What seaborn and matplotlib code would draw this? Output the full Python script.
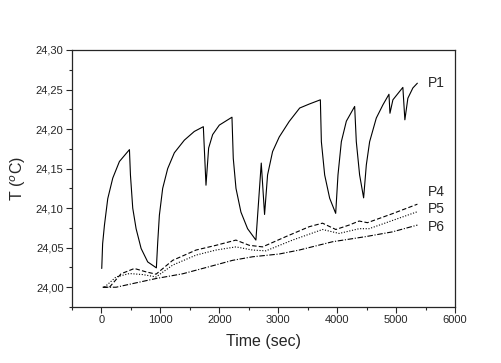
import matplotlib
matplotlib.use("Agg")
import matplotlib.pyplot as plt
import matplotlib.ticker as mticker
import pandas as pd
import seaborn as sns

# values
p1_t = [5, 20, 51, 107, 192, 305, 475,
        492, 531, 588, 673, 785, 932,
        955, 983, 1039, 1124, 1237, 1407, 1576, 1729,
        1774, 1819, 1887, 2000, 2215,
        2237, 2283, 2367, 2480, 2621,
        2712, 2768, 2819, 2904, 3017, 3186, 3364, 3525, 3715,
        3732, 3788, 3873, 3975,
        4014, 4071, 4156, 4297,
        4325, 4381, 4449,
        4495, 4551, 4664, 4777, 4879,
        4896, 4946, 5115,
        5149, 5200, 5285, 5361]
p1_T = [24.0237, 24.055, 24.0786, 24.112, 24.138, 24.159, 24.174,
        24.142, 24.100, 24.074, 24.049, 24.032, 24.0245,
        24.057, 24.091, 24.125, 24.150, 24.170, 24.186, 24.197, 24.203,
        24.129, 24.176, 24.193, 24.205, 24.215,
        24.163, 24.125, 24.095, 24.074, 24.0596,
        24.157, 24.092, 24.142, 24.1715, 24.190, 24.2096, 24.2266, 24.2316, 24.237,
        24.184, 24.142, 24.1125, 24.0934,
        24.142, 24.184, 24.210, 24.2286,
        24.184, 24.142, 24.113,
        24.1547, 24.184, 24.2139, 24.2307, 24.244,
        24.220, 24.237, 24.2527,
        24.2117, 24.239, 24.252, 24.258]

p4_t = [23, 136, 333, 559, 757, 927, 1209, 1605, 1944, 2282, 2508, 2734, 3130,
        3525, 3751, 3977, 4203, 4373, 4514, 4938, 5362]
p4_T = [24.00, 24.00, 24.017, 24.0237, 24.0194, 24.0165, 24.034, 24.047, 24.053,
        24.0596, 24.053, 24.051, 24.064, 24.0765, 24.081, 24.073, 24.0786, 24.0837,
        24.0816, 24.093, 24.105]

p5_t = [50, 249, 475, 700, 927, 1209, 1605, 1944, 2282, 2565, 2791, 3243, 3751,
        4034, 4373, 4542, 5362]
p5_T = [24.00, 24.013, 24.0173, 24.016, 24.013, 24.028, 24.0406, 24.047, 24.051,
        24.047, 24.046, 24.0596, 24.073, 24.068, 24.074, 24.074, 24.0955]

p6_t = [23, 249, 531, 927, 1379, 1831, 2226, 2565, 3017, 3356, 3921, 4486, 4938, 5362]
p6_T = [24.00, 24.00, 24.0046, 24.011, 24.017, 24.026, 24.034, 24.0385, 24.042,
        24.047, 24.0575, 24.064, 24.070, 24.0786]

labels = ["P1", "P4", "P5", "P6"]
label_y = [24.258, 24.121, 24.0985, 24.0765]

sns.set_style("ticks")
plt.rcParams["font.family"] = ["Liberation Sans", "DejaVu Sans"]

fig = plt.figure(figsize=(5.02, 3.63), dpi=100)
ax = fig.add_axes([0.1434, 0.1543, 0.763, 0.708])

series = [(p1_t, p1_T, "-"), (p4_t, p4_T, (0, (4, 2))),
          (p5_t, p5_T, (0, (1, 1.5))), (p6_t, p6_T, (0, (5, 1.5, 1, 1.5)))]
for t, T, ls in series:
    df = pd.DataFrame({"t": t, "T": T})
    sns.lineplot(data=df, x="t", y="T", ax=ax, color="black", lw=0.8,
                 linestyle=ls, estimator=None, sort=False)

for lab, y in zip(labels, label_y):
    ax.text(5540, y, lab, fontsize=10, va="center", ha="left")

ax.set_xlim(-500, 6000)
ax.set_ylim(23.975, 24.30)
ax.xaxis.set_major_locator(mticker.MultipleLocator(1000))
ax.xaxis.set_minor_locator(mticker.MultipleLocator(500))
ax.yaxis.set_major_locator(mticker.MultipleLocator(0.05))
ax.yaxis.set_minor_locator(mticker.MultipleLocator(0.025))
ax.yaxis.set_major_formatter(mticker.FuncFormatter(lambda v, p: f"{v:.2f}".replace(".", ",")))
ax.tick_params(which="major", direction="out", length=4, width=0.8, labelsize=8, pad=2)
ax.tick_params(which="minor", direction="out", length=2, width=0.8)
for s in ax.spines.values():
    s.set_linewidth(0.9)

ax.set_xlabel("Time (sec)", fontsize=11.5, labelpad=6)
ax.set_ylabel("T ($^{o}$C)", fontsize=11.5, labelpad=6)

fig.savefig("out.png", dpi=100)
